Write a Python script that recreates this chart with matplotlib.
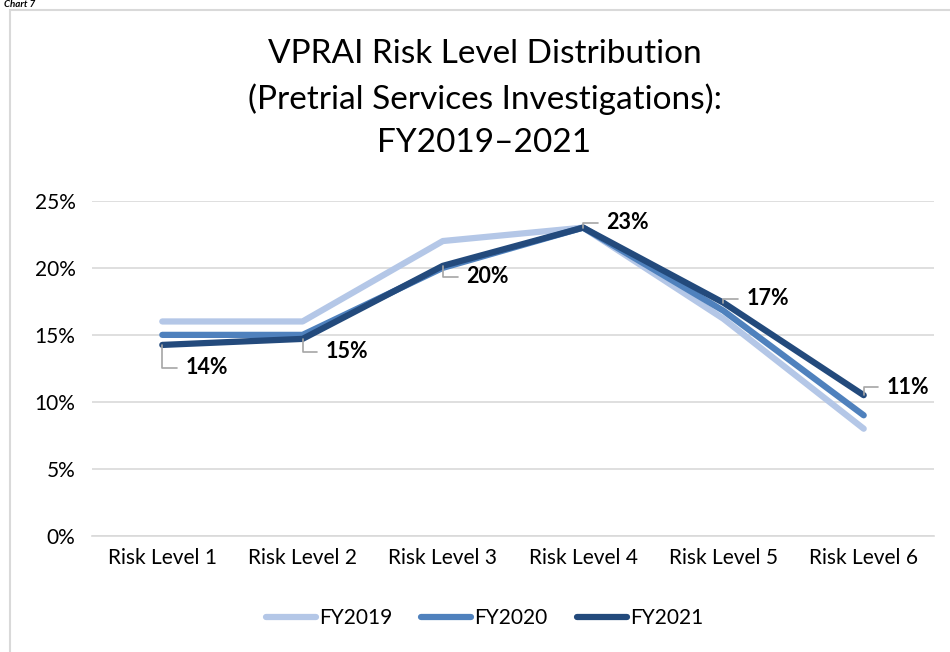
import matplotlib
matplotlib.use('Agg')
import matplotlib.pyplot as plt
from matplotlib.patches import Rectangle

# data
categories = ['Risk Level 1', 'Risk Level 2', 'Risk Level 3', 'Risk Level 4', 'Risk Level 5', 'Risk Level 6']
fy2019 = [16.0, 16.0, 22.0, 23.0, 16.2, 8.0]
fy2020 = [15.0, 15.0, 20.0, 23.0, 16.8, 9.0]
fy2021 = [14.25, 14.7, 20.15, 23.0, 17.4, 10.5]
labels_2021 = ['14%', '15%', '20%', '23%', '17%', '11%']
series_names = ['FY2019', 'FY2020', 'FY2021']
colors = ['#b4c7e7', '#4f81bd', '#234a7c']

plt.rcParams['font.family'] = ['Lato', 'DejaVu Sans']

fig = plt.figure(figsize=(9.5, 6.52), dpi=100)
ax = fig.add_axes([0.097, 0.178, 0.886, 0.514])

# chart frame
fig.patches.append(Rectangle((10 / 950, -0.1), 1.0, (652 - 10) / 652 + 0.1,
                             transform=fig.transFigure, fill=False,
                             edgecolor='#d9d9d9', linewidth=1.5))
fig.text(0.004, 0.9995, 'Chart 7', fontsize=7, fontweight='bold', style='italic',
         ha='left', va='top')

x = list(range(len(categories)))
for vals, name, c in zip([fy2019, fy2020, fy2021], series_names, colors):
    ax.plot(x, vals, color=c, linewidth=4.5, solid_capstyle='round',
            solid_joinstyle='round', label=name)

# data labels with leader lines (pixel offsets)
offsets = [(23, -23), (23, -13), (23, -11), (23, 5), (23, 4), (23, 8)]
for i, (lab, (dx, dy)) in enumerate(zip(labels_2021, offsets)):
    ax.annotate(lab, xy=(i, fy2021[i]), xytext=(dx, dy), textcoords='offset pixels',
                ha='left', va='center', fontsize=15.5, fontweight='bold', color='black',
                arrowprops=dict(arrowstyle='-', color='#a6a6a6', linewidth=1.2,
                                connectionstyle='angle,angleA=0,angleB=90,rad=0',
                                shrinkA=4, shrinkB=0))

ax.set_xlim(-0.5, 5.5)
ax.set_ylim(0, 25)
ax.set_yticks([0, 5, 10, 15, 20, 25])
ax.set_yticklabels(['0%', '5%', '10%', '15%', '20%', '25%'], fontsize=15)
ax.set_xticks(x)
ax.set_xticklabels(categories, fontsize=15)
ax.tick_params(axis='x', length=0, pad=9)
ax.tick_params(axis='y', length=0, pad=12)
ax.grid(axis='y', color='#d9d9d9', linewidth=1.2)
ax.set_axisbelow(True)
for s in ['top', 'right', 'left']:
    ax.spines[s].set_visible(False)
ax.spines['bottom'].set_color('#d9d9d9')
ax.spines['bottom'].set_linewidth(1.2)

fig.text(0.51, 0.849, 'VPRAI Risk Level Distribution\n(Pretrial Services Investigations):\nFY2019\u20132021',
         ha='center', va='center', fontsize=24, linespacing=1.55)

fig.legend(loc='center', bbox_to_anchor=(0.51, 0.052), ncol=3, frameon=False,
           fontsize=15, handlelength=2.4, handletextpad=0.15, columnspacing=1.4)

plt.savefig('out.png', dpi=100)
